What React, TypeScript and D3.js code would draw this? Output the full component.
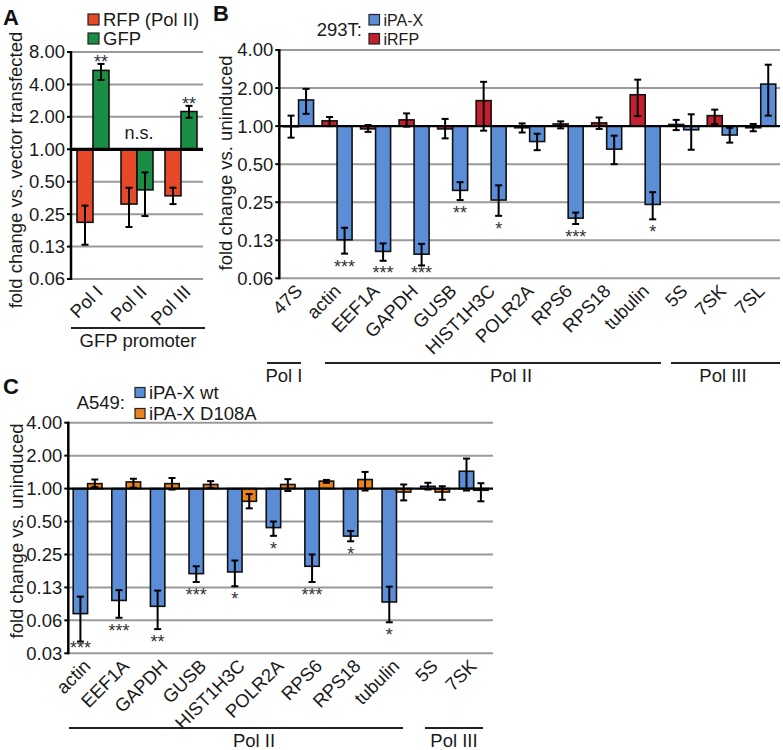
import React from "react";
import * as d3 from "d3";

// ---------- Panel A data ----------
const aCategories = ["Pol I", "Pol II", "Pol III"];
const aRfpValues = [0.21, 0.31, 0.37];
const aRfpLow = [0.13, 0.19, 0.31];
const aRfpHigh = [0.3, 0.44, 0.44];
const aGfpValues = [5.4, 0.42, 2.24];
const aGfpLow = [4.4, 0.24, 1.96];
const aGfpHigh = [6.2, 0.61, 2.53];
const aRfpStars = ["", "", ""];
const aGfpStars = ["**", "", "**"];
const aGroupNotes = ["", "n.s.", ""];
const aTicks = [8, 4, 2, 1, 0.5, 0.25, 0.125, 0.0625];

// ---------- Panel B data ----------
const bCategories = ["47S", "actin", "EEF1A", "GAPDH", "GUSB", "HIST1H3C", "POLR2A", "RPS6", "RPS18", "tubulin", "5S", "7SK", "7SL"];
const bIrfpValues = [0.99, 1.1, 0.95, 1.12, 0.95, 1.59, 0.97, 1.04, 1.06, 1.77, 1.03, 1.21, 0.97];
const bIrfpLow = [0.81, 1.0, 0.9, 0.99, 0.8, 0.92, 0.89, 0.96, 0.95, 1.2, 0.93, 1.04, 0.91];
const bIrfpHigh = [1.21, 1.18, 1.02, 1.26, 1.14, 2.24, 1.05, 1.09, 1.17, 2.33, 1.12, 1.35, 1.04];
const bIpaxValues = [1.61, 0.126, 0.102, 0.097, 0.31, 0.26, 0.755, 0.187, 0.657, 0.24, 0.935, 0.85, 2.15];
const bIpaxLow = [1.25, 0.098, 0.086, 0.079, 0.26, 0.195, 0.645, 0.168, 0.5, 0.183, 0.65, 0.74, 1.21];
const bIpaxHigh = [1.97, 0.157, 0.118, 0.117, 0.36, 0.34, 0.87, 0.207, 0.84, 0.3, 1.24, 0.97, 3.06];
const bIrfpStars = ["", "", "", "", "", "", "", "", "", "", "", "", ""];
const bIpaxStars = ["", "***", "***", "***", "**", "*", "", "***", "", "*", "", "", ""];
const bTicks = [4, 2, 1, 0.5, 0.25, 0.125, 0.0625];

// ---------- Panel C data ----------
const cCategories = ["actin", "EEF1A", "GAPDH", "GUSB", "HIST1H3C", "POLR2A", "RPS6", "RPS18", "tubulin", "5S", "7SK"];
const cWtValues = [0.072, 0.095, 0.084, 0.167, 0.173, 0.44, 0.195, 0.368, 0.092, 1.05, 1.44];
const cWtLow = [0.04, 0.066, 0.052, 0.14, 0.128, 0.37, 0.14, 0.33, 0.06, 0.98, 0.96];
const cWtHigh = [0.103, 0.118, 0.117, 0.195, 0.22, 0.5, 0.25, 0.41, 0.127, 1.13, 1.88];
const cMutValues = [1.11, 1.15, 1.11, 1.09, 0.765, 1.09, 1.17, 1.21, 0.93, 0.93, 0.965];
const cMutLow = [1.03, 1.02, 0.98, 1.01, 0.66, 0.95, 1.13, 0.96, 0.78, 0.79, 0.765];
const cMutHigh = [1.21, 1.23, 1.25, 1.17, 0.89, 1.22, 1.2, 1.42, 1.09, 1.05, 1.12];
const cWtStars = ["***", "***", "**", "***", "*", "*", "***", "*", "*", "", ""];
const cMutStars = ["", "", "", "", "", "", "", "", "", "", ""];
const cTicks = [4, 2, 1, 0.5, 0.25, 0.125, 0.0625, 0.03125];

const FONT = "'Liberation Sans', Arial, Helvetica, sans-serif";
const TXT = "#1a1a1a";
const GRID = "#9a9a9a";
const RED_A = "#e5492a";
const GREEN_A = "#1b8e45";
const BLUE = "#5b8ed6";
const RED_B = "#c31f2e";
const ORANGE = "#e9821f";

type Series = { values: number[]; low: number[]; high: number[]; color: string; stars: string[] };

type PanelProps = {
  x0: number; x1: number; yTop: number; yBottom: number;
  domain: [number, number]; ticks: number[]; categories: string[];
  series: Series[]; barWidth: number; baseWidth: number;
  labelDx: number; labelDy: number; notes?: string[];
};

const fmt = d3.format(".2f");

function Panel(p: PanelProps) {
  const y = d3.scaleLog().base(2).domain(p.domain).range([p.yBottom, p.yTop]);
  const x = d3.scaleBand<string>().domain(p.categories).range([p.x0, p.x1]);
  const base = y(1);
  const n = p.series.length;
  const bw = p.barWidth;
  const center = (c: string) => (x(c) as number) + x.bandwidth() / 2;
  return (
    <g>
      {p.ticks.filter((t) => t !== 1).map((t) => (
        <line key={"g" + t} x1={p.x0} x2={p.x1} y1={y(t)} y2={y(t)} stroke={GRID} strokeWidth={2} />
      ))}
      {p.series.map((s, si) =>
        p.categories.map((c, i) => {
          const bx = center(c) + (si - n / 2) * bw;
          const yv = y(s.values[i]);
          return (
            <rect key={"b" + si + c} x={bx} width={bw} y={Math.min(yv, base)} height={Math.abs(yv - base)}
              fill={s.color} stroke="#111" strokeWidth={1.6} />
          );
        })
      )}
      <line x1={p.x0} x2={p.x1} y1={base} y2={base} stroke="#000" strokeWidth={p.baseWidth} />
      {p.series.map((s, si) =>
        p.categories.map((c, i) => {
          const cx = center(c) + (si - n / 2) * bw + bw / 2;
          const yl = y(s.low[i]);
          const yh = y(s.high[i]);
          return (
            <g key={"e" + si + c} stroke="#000" strokeWidth={2}>
              <line x1={cx} x2={cx} y1={yl} y2={yh} />
              <line x1={cx - 3.5} x2={cx + 3.5} y1={yl} y2={yl} />
              <line x1={cx - 3.5} x2={cx + 3.5} y1={yh} y2={yh} />
            </g>
          );
        })
      )}
      {p.series.map((s, si) =>
        p.categories.map((c, i) => {
          if (!s.stars[i]) return null;
          const cx = center(c) + (si - n / 2) * bw + bw / 2;
          const up = s.values[i] > 1;
          const ty = up ? y(s.high[i]) + 4 : Math.min(y(s.low[i]) + 19, p.yBottom + 1);
          return (
            <text key={"s" + si + c} x={cx} y={ty} textAnchor="middle" fontSize={18} fill="#333">{s.stars[i]}</text>
          );
        })
      )}
      {p.notes && p.categories.map((c, i) =>
        p.notes && p.notes[i] ? (
          <text key={"n" + c} x={center(c) + 2} y={base - 10} textAnchor="middle" fontSize={18} fill={TXT}>{p.notes[i]}</text>
        ) : null
      )}
      <line x1={p.x0} x2={p.x0} y1={p.yTop - 1} y2={p.yBottom + 1} stroke="#000" strokeWidth={2.5} />
      {p.ticks.map((t) => (
        <g key={"t" + t}>
          <line x1={p.x0 - 4} x2={p.x0} y1={y(t)} y2={y(t)} stroke="#000" strokeWidth={2} />
          <text x={p.x0 - 6} y={y(t)} dy="0.35em" textAnchor="end" fontSize={18.5} fill={TXT}>{fmt(t)}</text>
        </g>
      ))}
      {p.categories.map((c) => (
        <text key={"l" + c} transform={`translate(${center(c) + p.labelDx},${p.yBottom + p.labelDy}) rotate(-45)`}
          textAnchor="end" fontSize={18.5} fill={TXT}>{c}</text>
      ))}
    </g>
  );
}

function Bracket({ x1, x2, y, label, tx }: { x1: number; x2: number; y: number; label: string; tx: number }) {
  return (
    <g>
      <line x1={x1} x2={x2} y1={y} y2={y} stroke="#222" strokeWidth={2} />
      <text x={tx} y={y + 19} textAnchor="middle" fontSize={18.5} fill={TXT}>{label}</text>
    </g>
  );
}

function Legend({ x, y, items, gap, size, fontSize }: { x: number; y: number; items: { label: string; color: string }[]; gap: number; size: number; fontSize: number }) {
  return (
    <g>
      {items.map((it, i) => (
        <g key={it.label}>
          <rect x={x} y={y + i * gap - size} width={size} height={size} fill={it.color} stroke="#222" strokeWidth={1.2} />
          <text x={x + size + 4} y={y + i * gap + 1} fontSize={fontSize} fill={TXT}>{it.label}</text>
        </g>
      ))}
    </g>
  );
}

export default function App() {
  return (
    <svg width={783} height={750} style={{ position: "absolute", left: 0, top: 0, background: "#fff" }} fontFamily={FONT}>
      {/* Panel letters */}
      <text x={3} y={25} fontSize={22} fontWeight="bold" fill="#111">A</text>
      <text x={213} y={21} fontSize={22} fontWeight="bold" fill="#111">B</text>
      <text x={3} y={394} fontSize={22} fontWeight="bold" fill="#111">C</text>

      {/* Panel A */}
      <Legend x={88} y={25} gap={19} size={11} fontSize={18.5} items={[{ label: "RFP (Pol II)", color: RED_A }, { label: "GFP", color: GREEN_A }]} />
      <text transform="translate(22,170) rotate(-90)" textAnchor="middle" fontSize={18.5} fill={TXT}>fold change vs. vector transfected</text>
      <Panel x0={71} x1={203} yTop={52} yBottom={279} domain={[0.0625, 8]} ticks={aTicks} categories={aCategories}
        barWidth={16} baseWidth={3.2} labelDx={11} labelDy={14} notes={aGroupNotes}
        series={[
          { values: aRfpValues, low: aRfpLow, high: aRfpHigh, color: RED_A, stars: aRfpStars },
          { values: aGfpValues, low: aGfpLow, high: aGfpHigh, color: GREEN_A, stars: aGfpStars },
        ]} />
      <Bracket x1={71} x2={205} y={328} label="GFP promoter" tx={138} />

      {/* Panel B */}
      <text x={362} y={36} textAnchor="end" fontSize={18.5} fill={TXT}>293T:</text>
      <Legend x={369} y={25} gap={19} size={10.5} fontSize={16} items={[{ label: "iPA-X", color: BLUE }, { label: "iRFP", color: RED_B }]} />
      <text transform="translate(232,163) rotate(-90)" textAnchor="middle" fontSize={18.5} fill={TXT}>fold change vs. uninduced</text>
      <Panel x0={279.3} x1={780} yTop={50} yBottom={278.3} domain={[0.0625, 4]} ticks={bTicks} categories={bCategories}
        barWidth={15} baseWidth={2.2} labelDx={5} labelDy={14}
        series={[
          { values: bIrfpValues, low: bIrfpLow, high: bIrfpHigh, color: RED_B, stars: bIrfpStars },
          { values: bIpaxValues, low: bIpaxLow, high: bIpaxHigh, color: BLUE, stars: bIpaxStars },
        ]} />
      <Bracket x1={267} x2={301} y={363} label="Pol I" tx={284} />
      <Bracket x1={325} x2={661} y={363} label="Pol II" tx={511} />
      <Bracket x1={671} x2={780} y={363} label="Pol III" tx={723} />

      {/* Panel C */}
      <text x={125} y={409} textAnchor="end" fontSize={18.5} fill={TXT}>A549:</text>
      <Legend x={135} y={397.5} gap={21} size={10} fontSize={18.5} items={[{ label: "iPA-X wt", color: BLUE }, { label: "iPA-X D108A", color: ORANGE }]} />
      <text transform="translate(23,531) rotate(-90)" textAnchor="middle" fontSize={18.5} fill={TXT}>fold change vs. uninduced</text>
      <Panel x0={68.3} x1={493} yTop={422.7} yBottom={653.3} domain={[0.03125, 4]} ticks={cTicks} categories={cCategories}
        barWidth={14.4} baseWidth={2.2} labelDx={4} labelDy={14}
        series={[
          { values: cWtValues, low: cWtLow, high: cWtHigh, color: BLUE, stars: cWtStars },
          { values: cMutValues, low: cMutLow, high: cMutHigh, color: ORANGE, stars: cMutStars },
        ]} />
      <Bracket x1={69} x2={403} y={728} label="Pol II" tx={254} />
      <Bracket x1={425} x2={483} y={728} label="Pol III" tx={454} />
    </svg>
  );
}
